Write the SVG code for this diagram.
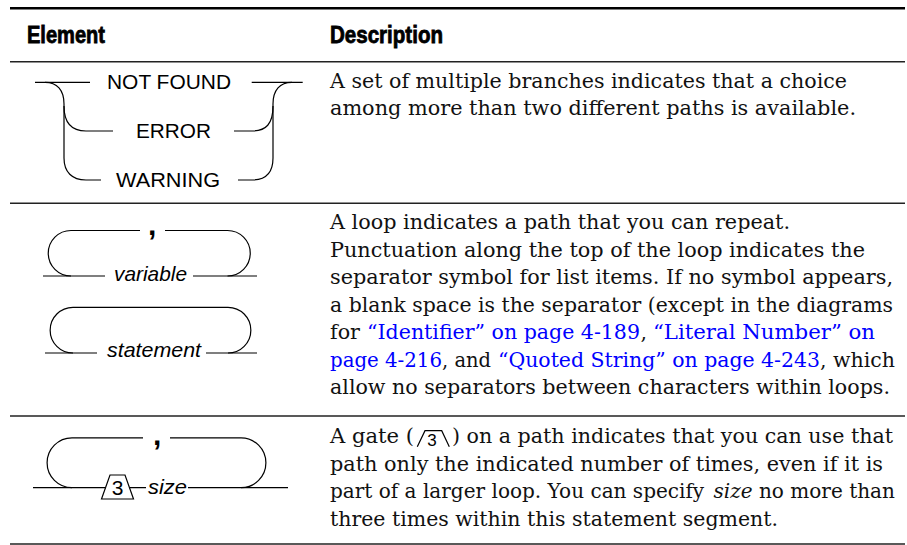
<svg xmlns="http://www.w3.org/2000/svg" width="907" height="545" viewBox="0 0 907 545">
<style>
.rule{stroke:#222;stroke-width:1.4;fill:none}
.ln{fill:none;stroke:#000;stroke-width:1.2}
.lbl{font-family:"Liberation Sans",Arial,sans-serif;font-size:21px;fill:#000}
.it{font-style:italic}
.cm{font-family:"Liberation Sans",Arial,sans-serif;font-size:30px;font-weight:bold;fill:#000}
.hd{font-family:"Liberation Sans Narrow","Liberation Sans",Arial,sans-serif;font-weight:bold;font-size:23.5px;fill:#000;stroke:#000;stroke-width:0.8}
.tx{font-family:"DejaVu Serif","Liberation Serif",serif;font-size:20.5px;fill:#111}
.lk{fill:#0000ff}
</style>
<rect width="907" height="545" fill="#fff"/>
<g id="table-rules">
<line x1="10" y1="8.3" x2="905" y2="8.3" stroke="#000" stroke-width="2.6"/>
<line class="rule" x1="10" y1="61.7" x2="905" y2="61.7"/>
<line class="rule" x1="10" y1="203.3" x2="905" y2="203.3"/>
<line class="rule" x1="10" y1="416" x2="905" y2="416"/>
<line class="rule" x1="10" y1="544" x2="905" y2="544"/>
</g>
<g id="header">
<text class="hd" x="27" y="42.7" textLength="78" lengthAdjust="spacingAndGlyphs">Element</text>
<text class="hd" x="330" y="42.7" textLength="113" lengthAdjust="spacingAndGlyphs">Description</text>
</g>
<g id="branches">
<text class="lbl" x="107" y="89.3" textLength="124" lengthAdjust="spacingAndGlyphs">NOT FOUND</text>
<text class="lbl" x="136" y="137.7" textLength="75" lengthAdjust="spacingAndGlyphs">ERROR</text>
<text class="lbl" x="116" y="187.3" textLength="104" lengthAdjust="spacingAndGlyphs">WARNING</text>
</g>
<g id="loop-variable">
<text class="lbl it" x="114" y="280.5" textLength="73" lengthAdjust="spacingAndGlyphs">variable</text>
<text class="cm" x="148" y="234.5">,</text>
</g>
<g id="loop-statement">
<text class="lbl it" x="107" y="356.7" textLength="94" lengthAdjust="spacingAndGlyphs">statement</text>
</g>
<g id="gate-size">
<polygon class="ln" points="101.5,499 110,475 125,475 133.5,499"/>
<text class="lbl" x="117.5" y="495" text-anchor="middle">3</text>
<text class="lbl it" x="148" y="494" textLength="39" lengthAdjust="spacingAndGlyphs">size</text>
<text class="cm" x="153" y="445">,</text>
</g>
<g id="connectors">
<path class="ln" d="M35,82.3 H45 C57,82.3 64,90 64,104 V158 C64,172 72,180 86,180 H101"/>
<path class="ln" d="M64,106 C64,124 72,131 86,131 H113"/>
<path class="ln" d="M45,82.3 H90"/>
<path class="ln" d="M251.7,82.3 H302.7"/>
<path class="ln" d="M292,82.3 C280,82.3 273,90 273,104 V158 C273,172 266,180 252,180 H238"/>
<path class="ln" d="M273,106 C273,124 266,131 252,131 H234"/>
<path class="ln" d="M71,276 A22.75,22.75 0 0 1 71,230.5 H140"/>
<path class="ln" d="M165,230.5 H227.5 A22.75,22.75 0 0 1 227.5,276"/>
<path class="ln" d="M43,276 H105 M193,276 H257"/>
<path class="ln" d="M73,353 A22.85,22.85 0 0 1 73,307.3 H228 A22.85,22.85 0 0 1 228,353"/>
<path class="ln" d="M45,353 H97 M206,353 H257"/>
<path class="ln" d="M72,487.7 A24.9,24.9 0 0 1 72,437.9 H143 M170,437.9 H241 A24.9,24.9 0 0 1 241,487.7"/>
<path class="ln" d="M33,487.7 H105.6 M129.4,487.7 H146 M188,487.7 H288"/>
</g>
<g id="desc-branches">
<text class="tx" x="330" y="88.3" textLength="517" lengthAdjust="spacingAndGlyphs">A set of multiple branches indicates that a choice</text>
<text class="tx" x="330" y="115" textLength="526" lengthAdjust="spacingAndGlyphs">among more than two different paths is available.</text>
</g>
<g id="desc-loop">
<text class="tx" x="330" y="229" textLength="460" lengthAdjust="spacingAndGlyphs">A loop indicates a path that you can repeat.</text>
<text class="tx" x="330" y="256.5" textLength="535" lengthAdjust="spacingAndGlyphs">Punctuation along the top of the loop indicates the</text>
<text class="tx" x="330" y="284" textLength="563" lengthAdjust="spacingAndGlyphs">separator symbol for list items. If no symbol appears,</text>
<text class="tx" x="330" y="311.5" textLength="563" lengthAdjust="spacingAndGlyphs">a blank space is the separator (except in the diagrams</text>
<text class="tx" x="330" y="339" textLength="30" lengthAdjust="spacingAndGlyphs">for</text>
<text class="tx lk" x="367" y="339" textLength="273" lengthAdjust="spacingAndGlyphs">“Identifier” on page 4-189</text>
<text class="tx" x="640.5" y="339">,</text>
<text class="tx lk" x="653" y="339" textLength="222" lengthAdjust="spacingAndGlyphs">“Literal Number” on</text>
<text class="tx lk" x="330" y="366.5" textLength="112" lengthAdjust="spacingAndGlyphs">page 4-216</text>
<text class="tx" x="442" y="366.5" textLength="49" lengthAdjust="spacingAndGlyphs">, and</text>
<text class="tx lk" x="498" y="366.5" textLength="322" lengthAdjust="spacingAndGlyphs">“Quoted String” on page 4-243</text>
<text class="tx" x="820" y="366.5" textLength="75" lengthAdjust="spacingAndGlyphs">, which</text>
<text class="tx" x="330" y="394" textLength="560" lengthAdjust="spacingAndGlyphs">allow no separators between characters within loops.</text>
</g>
<g id="desc-gate">
<text class="tx" x="330" y="443" textLength="84" lengthAdjust="spacingAndGlyphs">A gate (</text>
<polyline class="ln" points="417.3,446.7 425,430.7 441.7,430.7 449.3,446.7"/>
<text class="lbl" x="432" y="445.5" style="font-size:17px" text-anchor="middle">3</text>
<text class="tx" x="452" y="443" textLength="441" lengthAdjust="spacingAndGlyphs">) on a path indicates that you can use that</text>
<text class="tx" x="330" y="470.5" textLength="553" lengthAdjust="spacingAndGlyphs">path only the indicated number of times, even if it is</text>
<text class="tx" x="330" y="498" textLength="565" lengthAdjust="spacingAndGlyphs">part of a larger loop. You can specify <tspan class="it" dx="3">size</tspan> no more than</text>
<text class="tx" x="330" y="525.5" textLength="448" lengthAdjust="spacingAndGlyphs">three times within this statement segment.</text>
</g>
</svg>
